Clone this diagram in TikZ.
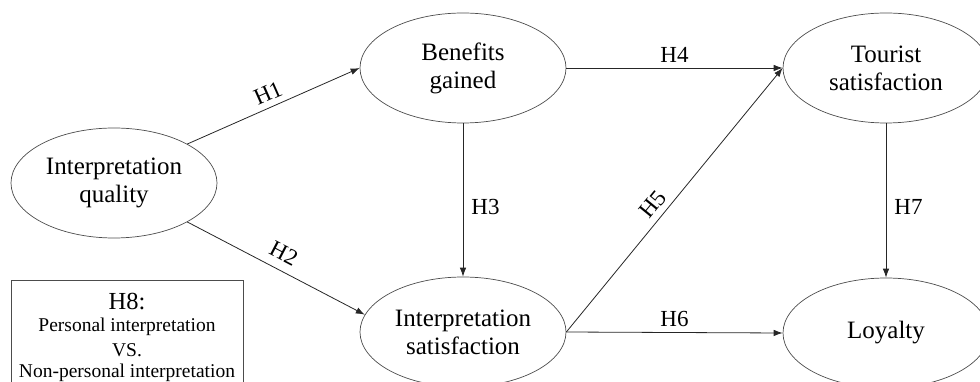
\documentclass[tikz,border=0pt]{standalone}
\usepackage{fontspec}
\setmainfont{Liberation Serif}
\usetikzlibrary{arrows.meta,shapes.geometric}
\begin{document}
\begin{tikzpicture}[x=1pt,y=-1pt,
  construct/.style={draw=black!70, line width=0.7pt, ellipse, minimum width=206pt, minimum height=110pt, inner sep=0pt, align=center, font=\fontsize{25}{28}\selectfont},
  conn/.style={draw=black!85, line width=0.8pt, -{Latex[length=9pt,width=6.5pt]}},
  hlab/.style={font=\fontsize{23}{26}\selectfont, inner sep=1pt}]
\useasboundingbox (0,0) rectangle (980,382);
\node[construct] (IQ) at (114,183) {Interpretation\\quality};
\node[construct] (BG) at (463,68) {Benefits\\gained};
\node[construct] (TS) at (886,68) {Tourist\\satisfaction};
\node[construct] (IS) at (463,332) {Interpretation\\satisfaction};
\node[construct] (LO) at (886,333) {Loyalty};
\draw[conn] (IQ.28) -- node[hlab, sloped, above=5pt] {H1} (BG.west);
\draw[conn] (IQ.-28) -- node[hlab, sloped, above=8pt] {H2} (IS.170);
\draw[conn] (BG.south) -- node[hlab, pos=0.545, right=7pt] {H3} (IS.north);
\draw[conn] (BG.east) -- node[hlab, above=4pt] {H4} (TS.west);
\draw[conn] (IS.east) -- node[hlab, pos=0.45, sloped, above=5pt] {H5} (TS.west);
\draw[conn] (IS.east) -- node[hlab, above=4pt] {H6} (LO.west);
\draw[conn] (TS.south) -- node[hlab, pos=0.545, right=7pt] {H7} (LO.north);
\node[draw=black!70, line width=0.7pt, minimum width=232pt, minimum height=110pt, anchor=north west, inner sep=0pt] (H8box) at (11,280) {};
\node[font=\fontsize{24.5}{26}\selectfont, inner sep=0pt] (H8t) at (127,302) {H8:};
\node[font=\fontsize{19.5}{22}\selectfont, inner sep=0pt] (H8a) at (127,327) {Personal interpretation};
\node[font=\fontsize{19.5}{22}\selectfont, inner sep=0pt] (H8b) at (127,350) {VS.};
\node[font=\fontsize{19.5}{22}\selectfont, inner sep=0pt] (H8c) at (127,373) {Non-personal interpretation};
\end{tikzpicture}
\end{document}
